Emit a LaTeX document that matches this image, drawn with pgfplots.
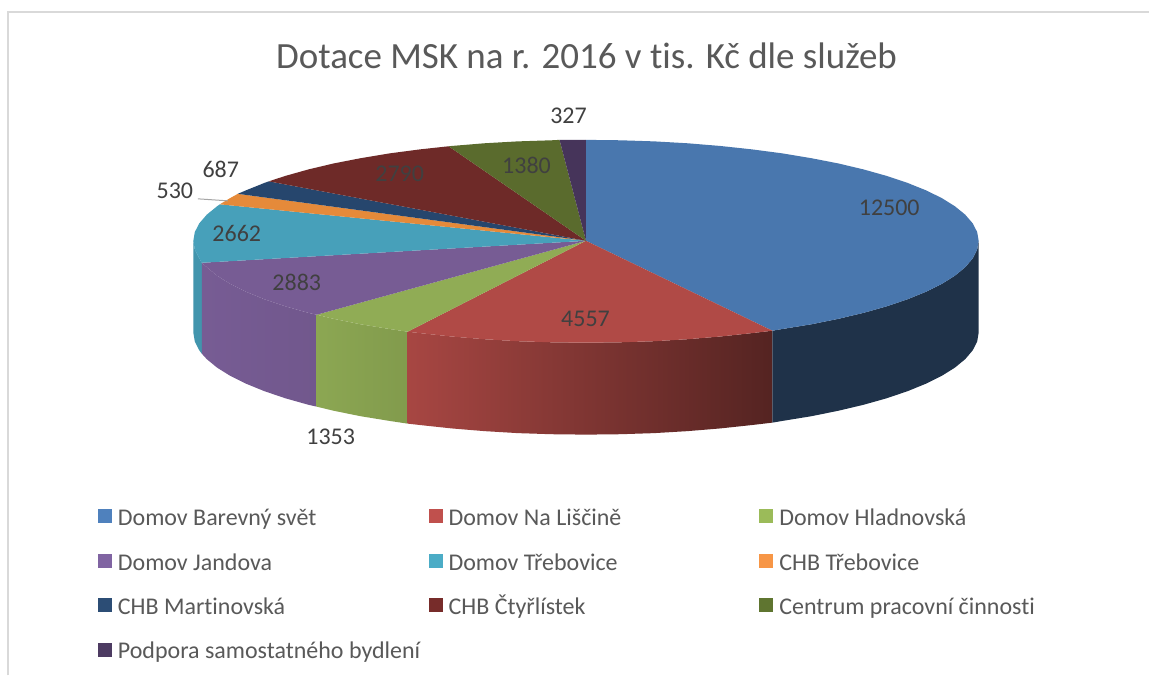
\documentclass[border=0pt]{standalone}
\usepackage{fontspec}
\setmainfont[Ligatures=CommonOff]{Carlito}
\usepackage{pgfplots}
\pgfplotsset{compat=1.18}

\definecolor{frameg}{RGB}{217,217,217}
\definecolor{txtg}{RGB}{89,89,89}
\definecolor{lblg}{RGB}{64,64,64}
% top faces
\definecolor{tblue}{RGB}{73,119,174}
\definecolor{tred}{RGB}{176,74,70}
\definecolor{tgreen}{RGB}{144,172,85}
\definecolor{tpurple}{RGB}{119,92,148}
\definecolor{tteal}{RGB}{71,160,186}
\definecolor{torange}{RGB}{229,138,58}
\definecolor{tnavy}{RGB}{38,70,109}
\definecolor{tmaroon}{RGB}{110,42,40}
\definecolor{tdgreen}{RGB}{90,107,45}
\definecolor{tdpurple}{RGB}{70,52,90}
% legend swatches
\definecolor{lblue}{RGB}{79,129,189}
\definecolor{lred}{RGB}{192,80,77}
\definecolor{lgreen}{RGB}{155,187,89}
\definecolor{lpurple}{RGB}{128,100,162}
\definecolor{lteal}{RGB}{75,172,198}
\definecolor{lorange}{RGB}{247,150,70}
\definecolor{lnavy}{RGB}{44,77,117}
\definecolor{lmaroon}{RGB}{119,44,42}
\definecolor{ldgreen}{RGB}{95,117,48}
\definecolor{ldpurple}{RGB}{77,59,98}

\newcommand{\lgt}[1]{\makebox[311pt][l]{\rule[-12pt]{0pt}{36pt}#1}}

\begin{document}
\begin{tikzpicture}
\begin{axis}[
scale only axis,
width=1150pt, height=676pt,
xmin=0, xmax=1150, ymin=0, ymax=676,
y dir=reverse,
hide axis,
clip=false,
no markers,
legend columns=3,
legend cell align={left},
legend image code/.code={\path[draw=none,#1] (0pt,-9pt) rectangle (14pt,5pt);},
legend style={
  at={(axis cs:98,502)}, anchor=north west,
  draw=none, fill=none, inner sep=0pt, outer sep=0pt,
  font=\fontsize{24}{29}\selectfont, text=txtg,
  row sep=19pt,
  nodes={inner xsep=0pt, inner ysep=0pt},
  /tikz/every odd column/.append style={column sep=6pt},
},
]
% page background and frame
\addplot[fill=white, draw=none, forget plot] coordinates {(0,0)(1150,0)(1150,676)(0,676)} --cycle;
\addplot[frameg, line width=2pt, forget plot] coordinates {(8.5,676)(8.5,12)(1150,12)};

% side walls
\addplot[fill=tteal!93!black, draw=none, forget plot] coordinates {
(202,263)(199.5,258.7)(195,249.9)(193.5,241)(193.5,333)(195,341.9)(199.5,350.7)(202,354)} --cycle;
\addplot[draw=none, left color=tpurple!100, right color=tpurple!95!black, forget plot] coordinates {
(202,263)(206.9,267.4)(217.2,275.9)(230.3,284.1)(246.2,292)(264.6,299.5)(285.5,306.6)(308.6,313.1)(317,315)
(317,407)(308.6,405.1)(285.5,398.6)(264.6,391.5)(246.2,384)(230.3,376.1)(217.2,367.9)(206.9,359.4)(202,354)} --cycle;
\addplot[draw=none, left color=tgreen!97!black, right color=tgreen!90!black, forget plot] coordinates {
(317,315)(333.9,319.1)(361.1,324.6)(390,329.3)(408,332)
(408,424)(390,421.3)(361.1,416.6)(333.9,411.1)(317,407)} --cycle;
\addplot[draw=none, left color=tred!95!black, right color=tred!48!black, forget plot] coordinates {
(408,332)(420.4,333.4)(452.1,336.8)(484.8,339.5)(518.3,341.5)(552.2,342.6)(586.5,343)(620.8,342.6)(654.7,341.5)(688.2,339.5)(720.9,336.8)(752.6,333.4)(773,331)
(773,423)(752.6,425.4)(720.9,428.8)(688.2,431.5)(654.7,433.5)(620.8,434.6)(586.5,435)(552.2,434.6)(518.3,433.5)(484.8,431.5)(452.1,428.8)(420.4,425.4)(408,424)} --cycle;
\addplot[fill=tblue!42!black, draw=none, forget plot] coordinates {
(773,331)(783,329.3)(811.9,324.6)(839.1,319.1)(864.4,313.1)(887.5,306.6)(908.4,299.5)(926.8,292)(942.7,284.1)(955.8,275.9)(966.1,267.4)(973.5,258.7)(978,249.9)(979.5,241)
(979.5,333)(978,341.9)(973.5,350.7)(966.1,359.4)(955.8,367.9)(942.7,376.1)(926.8,384)(908.4,391.5)(887.5,398.6)(864.4,405.1)(839.1,411.1)(811.9,416.6)(783,421.3)(773,423)} --cycle;

% top faces, clockwise from twelve o'clock
\addplot[fill=tblue, draw=none, forget plot] coordinates {
(586.5,241)(586.5,140)(620.8,140.4)(654.7,141.5)(688.2,143.4)(720.9,146.1)(752.6,149.5)(783,153.5)(811.9,158.3)(839.1,163.6)(864.4,169.6)(887.5,176.1)(908.4,183.1)(926.8,190.5)(942.7,198.3)(955.8,206.5)(966.1,214.9)(973.5,223.5)(978,232.2)(979.5,241)(978,249.9)(973.5,258.7)(966.1,267.4)(955.8,275.9)(942.7,284.1)(926.8,292)(908.4,299.5)(887.5,306.6)(864.4,313.1)(839.1,319.1)(811.9,324.6)(783,329.3)(773,331)} --cycle;
\addplot[fill=tred, draw=none, forget plot] coordinates {
(586.5,241)(773,331)(752.6,333.4)(720.9,336.8)(688.2,339.5)(654.7,341.5)(620.8,342.6)(586.5,343)(552.2,342.6)(518.3,341.5)(484.8,339.5)(452.1,336.8)(420.4,333.4)(408,332)} --cycle;
\addplot[fill=tgreen, draw=none, forget plot] coordinates {
(586.5,241)(408,332)(390,329.3)(361.1,324.6)(333.9,319.1)(317,315)} --cycle;
\addplot[fill=tpurple, draw=none, forget plot] coordinates {
(586.5,241)(317,315)(308.6,313.1)(285.5,306.6)(264.6,299.5)(246.2,292)(230.3,284.1)(217.2,275.9)(206.9,267.4)(202,263)} --cycle;
\addplot[fill=tteal, draw=none, forget plot] coordinates {
(586.5,241)(202,263)(199.5,258.7)(195,249.9)(193.5,241)(195,232.2)(199.5,223.5)(206.9,214.9)(217.2,206.5)(220,204.5)} --cycle;
\addplot[fill=torange, draw=none, forget plot] coordinates {
(586.5,241)(220,204.5)(230.3,198.3)(238,194)} --cycle;
\addplot[fill=tnavy, draw=none, forget plot] coordinates {
(586.5,241)(238,194)(246.2,190.5)(264.6,183.1)(269,181.5)} --cycle;
\addplot[fill=tmaroon, draw=none, forget plot] coordinates {
(586.5,241)(269,181.5)(285.5,176.1)(308.6,169.6)(333.9,163.6)(361.1,158.3)(390,153.5)(420.4,149.5)(449,146.4)} --cycle;
\addplot[fill=tdgreen, draw=none, forget plot] coordinates {
(586.5,241)(449,146.4)(452.1,146.1)(484.8,143.4)(518.3,141.5)(552.2,140.4)(560,140)} --cycle;
\addplot[fill=tdpurple, draw=none, forget plot] coordinates {
(586.5,241)(560,140)(586.5,140)} --cycle;

% leader line for the 530 label
\addplot[color=black!35, line width=1pt, forget plot] coordinates {(198,199)(228,201)};

% legend
\addlegendimage{fill=lblue}\addlegendentry{\lgt{Domov Barevný svět}}
\addlegendimage{fill=lred}\addlegendentry{\lgt{Domov Na Liščině}}
\addlegendimage{fill=lgreen}\addlegendentry{\lgt{Domov Hladnovská}}
\addlegendimage{fill=lpurple}\addlegendentry{\lgt{Domov Jandova}}
\addlegendimage{fill=lteal}\addlegendentry{\lgt{Domov Třebovice}}
\addlegendimage{fill=lorange}\addlegendentry{\lgt{CHB Třebovice}}
\addlegendimage{fill=lnavy}\addlegendentry{\lgt{CHB Martinovská}}
\addlegendimage{fill=lmaroon}\addlegendentry{\lgt{CHB Čtyřlístek}}
\addlegendimage{fill=ldgreen}\addlegendentry{\lgt{Centrum pracovní činnosti}}
\addlegendimage{fill=ldpurple}\addlegendentry{\lgt{Podpora samostatného bydlení}}

% title and data labels
\node[text=txtg, font=\fontsize{37}{44}\selectfont] at (axis cs:587,56) {Dotace MSK na r. 2016 v tis. Kč dle služeb};
\begin{scope}[every node/.style={text=lblg, font=\fontsize{24}{29}\selectfont}]
\node at (axis cs:890,208) {12500};
\node at (axis cs:586,319) {4557};
\node at (axis cs:331,437) {1353};
\node at (axis cs:297,283) {2883};
\node at (axis cs:237,234) {2662};
\node at (axis cs:175,191) {530};
\node at (axis cs:221,170) {687};
\node at (axis cs:400,174) {2790};
\node at (axis cs:527,166) {1380};
\node at (axis cs:569,116) {327};
\end{scope}
\end{axis}
\end{tikzpicture}
\end{document}
